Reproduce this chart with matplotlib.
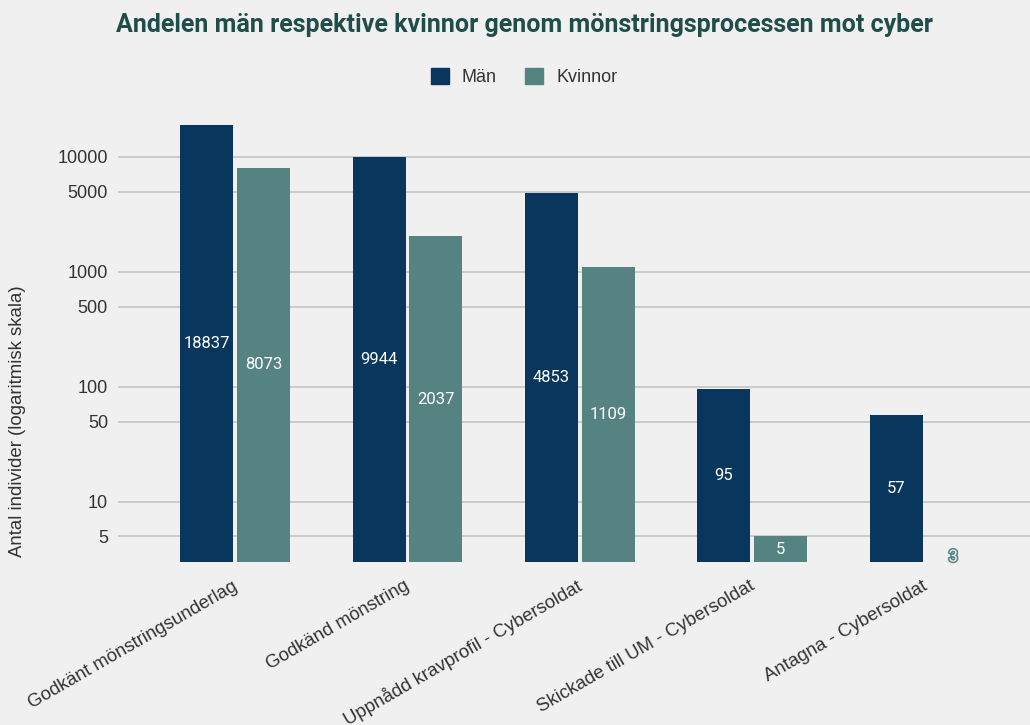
import matplotlib
matplotlib.use("Agg")
import matplotlib.pyplot as plt
import matplotlib.patheffects as pe
from matplotlib.patches import Patch
from matplotlib.transforms import ScaledTranslation
import numpy as np

categories = ["Godkänt mönstringsunderlag", "Godkänd mönstring",
              "Uppnådd kravprofil - Cybersoldat", "Skickade till UM - Cybersoldat",
              "Antagna - Cybersoldat"]
man = [18837, 9944, 4853, 95, 57]
kvinnor = [8073, 2037, 1109, 5, 3]
yticks = [5, 10, 50, 100, 500, 1000, 5000, 10000]
series_names = ["Män", "Kvinnor"]
title = "Andelen män respektive kvinnor genom mönstringsprocessen mot cyber"
ylabel = "Antal individer (logaritmisk skala)"

C_MAN = "#08365C"
C_KV = "#558382"
BG = "#F0F0F0"
BASE = 3

fig = plt.figure(figsize=(10.3, 7.25), dpi=100, facecolor=BG)
W, H = 1030, 725
ax = fig.add_axes([118 / W, 1 - 562 / H, (1030 - 118) / W, (562 - 110) / H], facecolor=BG)
ax.set_yscale("log")
ax.set_ylim(BASE, 10 ** (4 + 47 / 115))
ax.set_xlim(-0.679, 4.61)

x = np.arange(len(categories))
bw = 0.307
off = 0.165
for xs, vals, col in [(x - off, man, C_MAN), (x + off, kvinnor, C_KV)]:
    ax.bar(xs, [v - BASE for v in vals], bottom=BASE, width=bw, color=col, zorder=3)
    for xi, v in zip(xs, vals):
        if v > BASE:
            ax.text(xi, np.sqrt(BASE * v), str(v), color="white", ha="center", va="center",
                    fontsize=12, family="Roboto", zorder=4)
        else:
            t = ax.text(xi, BASE * 10 ** (5 / 115), str(v), color=BG, ha="center", va="center",
                        fontsize=12, family="Roboto", zorder=4)
            t.set_path_effects([pe.Stroke(linewidth=2.2, foreground=C_KV), pe.Normal()])

ax.set_yticks(yticks)
ax.set_yticklabels([str(t) for t in yticks], family="Liberation Sans", fontsize=13, color="#333333")
ax.yaxis.set_minor_locator(matplotlib.ticker.NullLocator())
ax.tick_params(axis="y", length=0, pad=7.2)
ax.grid(axis="y", color="#C8C8C8", lw=1.3, zorder=0)
ax.set_xticks(x)
ax.set_xticklabels(categories, rotation=30, ha="right", va="center", rotation_mode="anchor",
                   family="Liberation Sans", fontsize=13.4, color="#333333")
ax.tick_params(axis="x", length=0, pad=16.5)
for lab in ax.get_xticklabels():
    lab.set_transform(lab.get_transform() + ScaledTranslation(1 / 100, 0, fig.dpi_scale_trans))
for s in ax.spines.values():
    s.set_visible(False)

fig.text(18 / W, 1 - 421 / H, ylabel, rotation=90, ha="center", va="center",
         family="Liberation Sans", fontsize=13.4, color="#333333")

fig.text(524 / W, 1 - 25 / H, title, ha="center", va="center", family="Roboto",
         fontweight="bold", fontsize=18, color="#1F4E4A")

handles = [Patch(facecolor=C_MAN, edgecolor=C_MAN), Patch(facecolor=C_KV, edgecolor=C_KV)]
fig.legend(handles, series_names, loc="center", bbox_to_anchor=(524 / W, 1 - 77 / H), ncol=2,
           frameon=False, handlelength=1.0, handleheight=1.0, handletextpad=0.7, columnspacing=1.6,
           prop={"family": "Liberation Sans", "size": 13}, labelcolor="#333333")

fig.savefig("out.png", dpi=100, facecolor=BG)
